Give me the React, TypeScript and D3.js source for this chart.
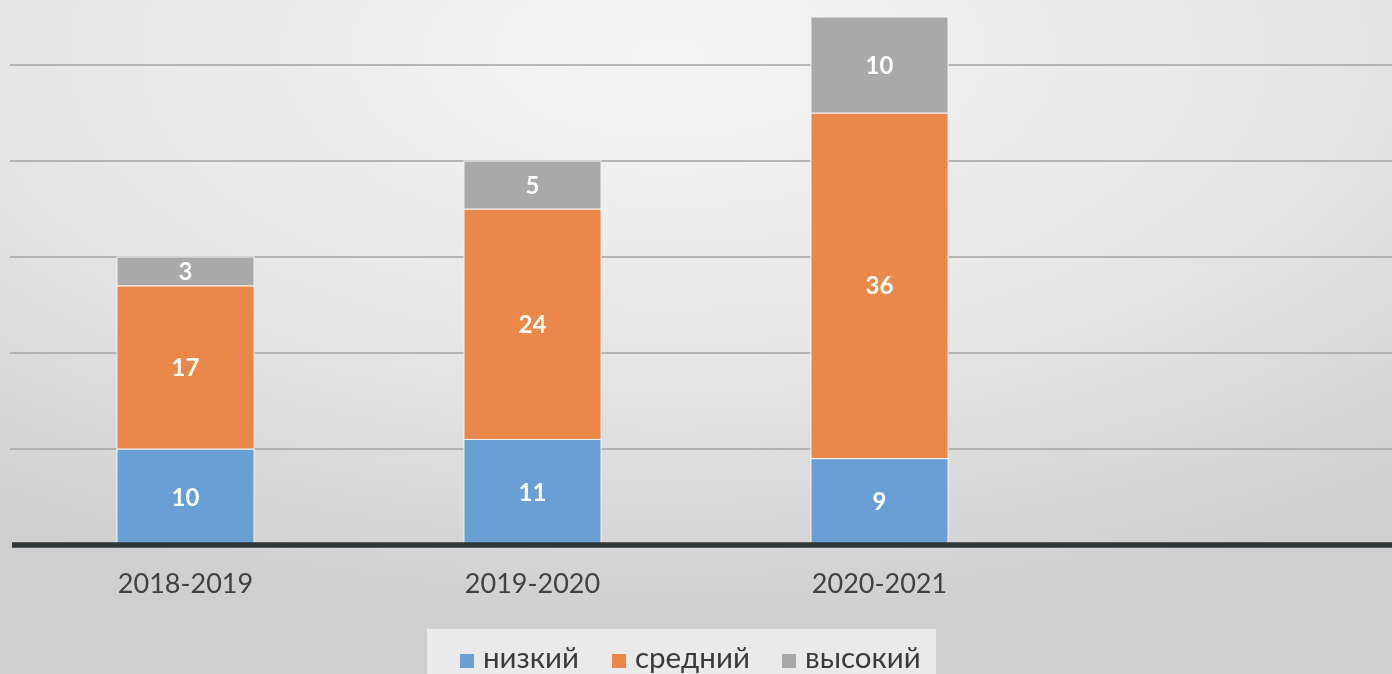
import React from 'react'
import { scaleBand, scaleLinear, stack } from "d3";

// data
const years = ["2018-2019", "2019-2020", "2020-2021"];
const levels = ["низкий", "средний", "высокий"];
const low = [10, 11, 9];
const mid = [17, 24, 36];
const high = [3, 5, 10];
const gridTicks = [10, 20, 30, 40, 50];
const levelColors = ["#6a9fd5", "#ea884a", "#a9a9a9"];

const W = 1392;
const H = 674;

const rows = years.map((y, i) => ({ year: y, "низкий": low[i], "средний": mid[i], "высокий": high[i] }));

export default function App() {
    const x = scaleBand<string>()
        .domain(years)
        .range([12, 1053])
        .paddingInner(0.605)
        .paddingOuter(0.3025);
    const y = scaleLinear().domain([0, 50]).range([545, 65]);

    const series = stack<any>().keys(levels)(rows);

    // legend layout
    const legendX = [460, 612, 782];
    const legendY = 668;

    return (
        <div style={{ position: "fixed", left: 0, top: 0 }}>
            <svg width={W} height={H} style={{ display: "block" }}>
                <defs>
                    <radialGradient id="bg" cx="48%" cy="8%" r="85%" fx="48%" fy="8%">
                        <stop offset="0%" stopColor="#f5f5f5" />
                        <stop offset="55%" stopColor="#e6e6e6" />
                        <stop offset="100%" stopColor="#cfcfcf" />
                    </radialGradient>
                </defs>
                <rect x={0} y={0} width={W} height={H} fill="url(#bg)" />

                {/* grid */}
                <g id="grid">
                    {gridTicks.map(t => (
                        <line key={t} x1={10} x2={W} y1={y(t)} y2={y(t)} stroke="#a3a3a3" strokeWidth={1.5} />
                    ))}
                </g>

                {/* bars */}
                <g id="bars">
                    {series.map((s, si) => (
                        <g key={s.key} fill={levelColors[si]}>
                            {s.map((d, i) => (
                                <rect key={i}
                                    x={x(years[i])}
                                    y={y(d[1])}
                                    width={x.bandwidth()}
                                    height={y(d[0]) - y(d[1])}
                                    stroke="#f4f4f4" strokeWidth={1} />
                            ))}
                        </g>
                    ))}
                </g>

                {/* data labels */}
                <g id="labels" fontFamily="Lato" fontWeight="bold" fontSize={24} fill="#ffffff" textAnchor="middle">
                    {series.map(s => s.map((d, i) => (
                        <text key={s.key + i}
                            x={(x(years[i]) ?? 0) + x.bandwidth() / 2}
                            y={(y(d[0]) + y(d[1])) / 2}
                            dy="0.36em">{d[1] - d[0]}</text>
                    )))}
                </g>

                {/* baseline */}
                <line x1={12} x2={W} y1={y(0)} y2={y(0)} stroke="#303538" strokeWidth={5.5} />

                {/* category axis */}
                <g id="x_axis" fontFamily="Lato" fontSize={27} fill="#404040" textAnchor="middle">
                    {years.map(yr => (
                        <text key={yr} x={(x(yr) ?? 0) + x.bandwidth() / 2} y={593}>{yr}</text>
                    ))}
                </g>

                {/* legend */}
                <rect x={427} y={629} width={509} height={60} fill="#eaeaea" />
                <g id="legend" fontFamily="Lato" fontSize={29.5} fill="#3a3a3a">
                    {levels.map((lv, i) => (
                        <g key={lv}>
                            <rect x={legendX[i]} y={legendY - 14} width={14} height={14} fill={levelColors[i]} />
                            <text x={legendX[i] + 23} y={legendY}>{lv}</text>
                        </g>
                    ))}
                </g>
            </svg>
        </div>
    );
}
